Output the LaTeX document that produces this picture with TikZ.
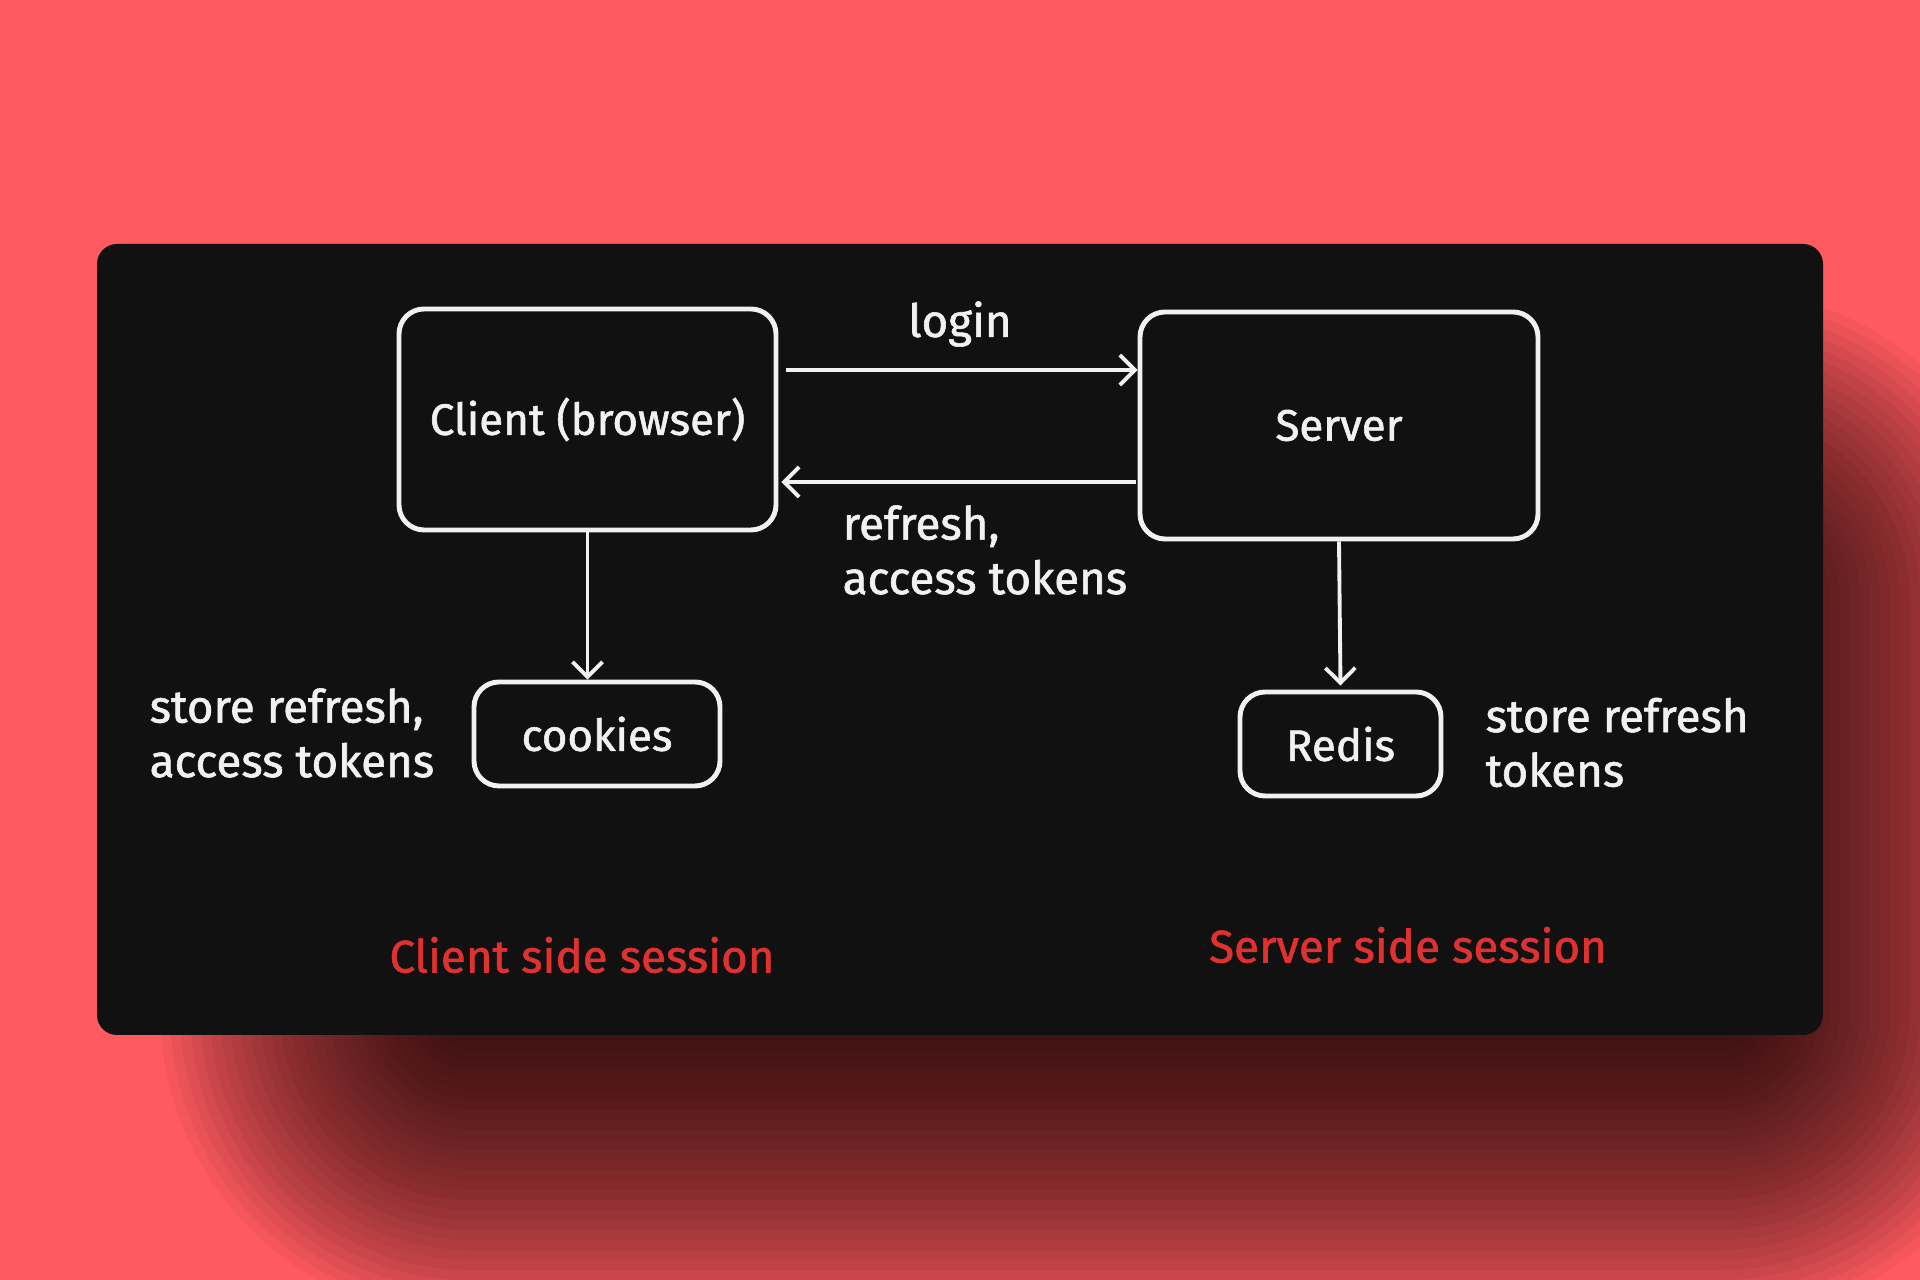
\documentclass[tikz,border=0pt]{standalone}
\usepackage{fontspec}
\setmainfont{Fira Sans}[FakeBold=1.3]
\usepackage{tikz}
\usetikzlibrary{arrows.meta,positioning}
\definecolor{ssBack}{HTML}{FF5A5F}
\definecolor{ssPanel}{HTML}{111111}
\definecolor{ssInk}{HTML}{F1F1F1}
\definecolor{ssRed}{HTML}{E03131}

\begin{document}
\begin{tikzpicture}[>={Straight Barb[length=1.5mm,width=3mm]},
 box/.style={draw=ssInk,line width=1.4pt,rounded corners=2.5mm,text=ssInk,
  font=\fontsize{12.5}{15.5}\selectfont},
 txt/.style={text=ssInk,inner sep=0pt,align=left,font=\fontsize{13}{15.5}\selectfont},
 side/.style={text=ssRed,inner sep=0pt,font=\fontsize{13}{16}\selectfont},
 link/.style={draw=ssInk,line width=1.1pt}]
\fill[ssBack] (0,0) rectangle (19.2,12.8);
\useasboundingbox (0,0) rectangle (19.2,12.8);
% soft shadow of the card
\foreach \r in {0,0.1,...,3.0}{
 \pgfmathsetmacro\rr{\r+0.2}
 \fill[black,opacity=0.042,rounded corners=\rr cm]
  (4.5-\r,2.5-\r) rectangle (17.4+\r,7.0+\r);
}
% dark card
\fill[ssPanel,rounded corners=2mm] (0.97,2.45) rectangle (18.23,10.36);
% boxes
\node[box,minimum width=3.77cm,minimum height=2.21cm] (client) at (5.875,8.605) {Client (browser)};
\node[box,minimum width=3.98cm,minimum height=2.27cm] (server) at (13.39,8.545) {Server};
\node[box,minimum width=2.46cm,minimum height=1.04cm] (cookies) at (5.97,5.46) {cookies};
\node[box,minimum width=2.01cm,minimum height=1.04cm] (redis) at (13.405,5.36) {Redis};
% arrows
\draw[link,->] ([shift={(0.08,0.495)}]client.east) -- ([yshift=0.495cm]client.east -| server.west);
\draw[link,<-] ([shift={(0.03,-0.625)}]client.east) -- ([shift={(-0.02,-0.625)}]client.east -| server.west);
\draw[link,->] (client.south) -- (client.south |- cookies.north);
\draw[link,->] (server.south) -- ([yshift=0.04cm]redis.north);
% labels
\node[txt] (login) at (9.60,9.56) {login};
\node[txt,anchor=west] (tokensback) at (8.42,7.30) {refresh,\\access tokens};
\node[txt,anchor=west] (cookiesnote) at (1.49,5.47) {store refresh,\\access tokens};
\node[txt,anchor=west] (redisnote) at (14.85,5.375) {store refresh\\tokens};
\node[side] (clientside) at (5.82,3.25) {Client side session};
\node[side] (serverside) at (14.08,3.35) {Server side session};
\end{tikzpicture}
\end{document}
